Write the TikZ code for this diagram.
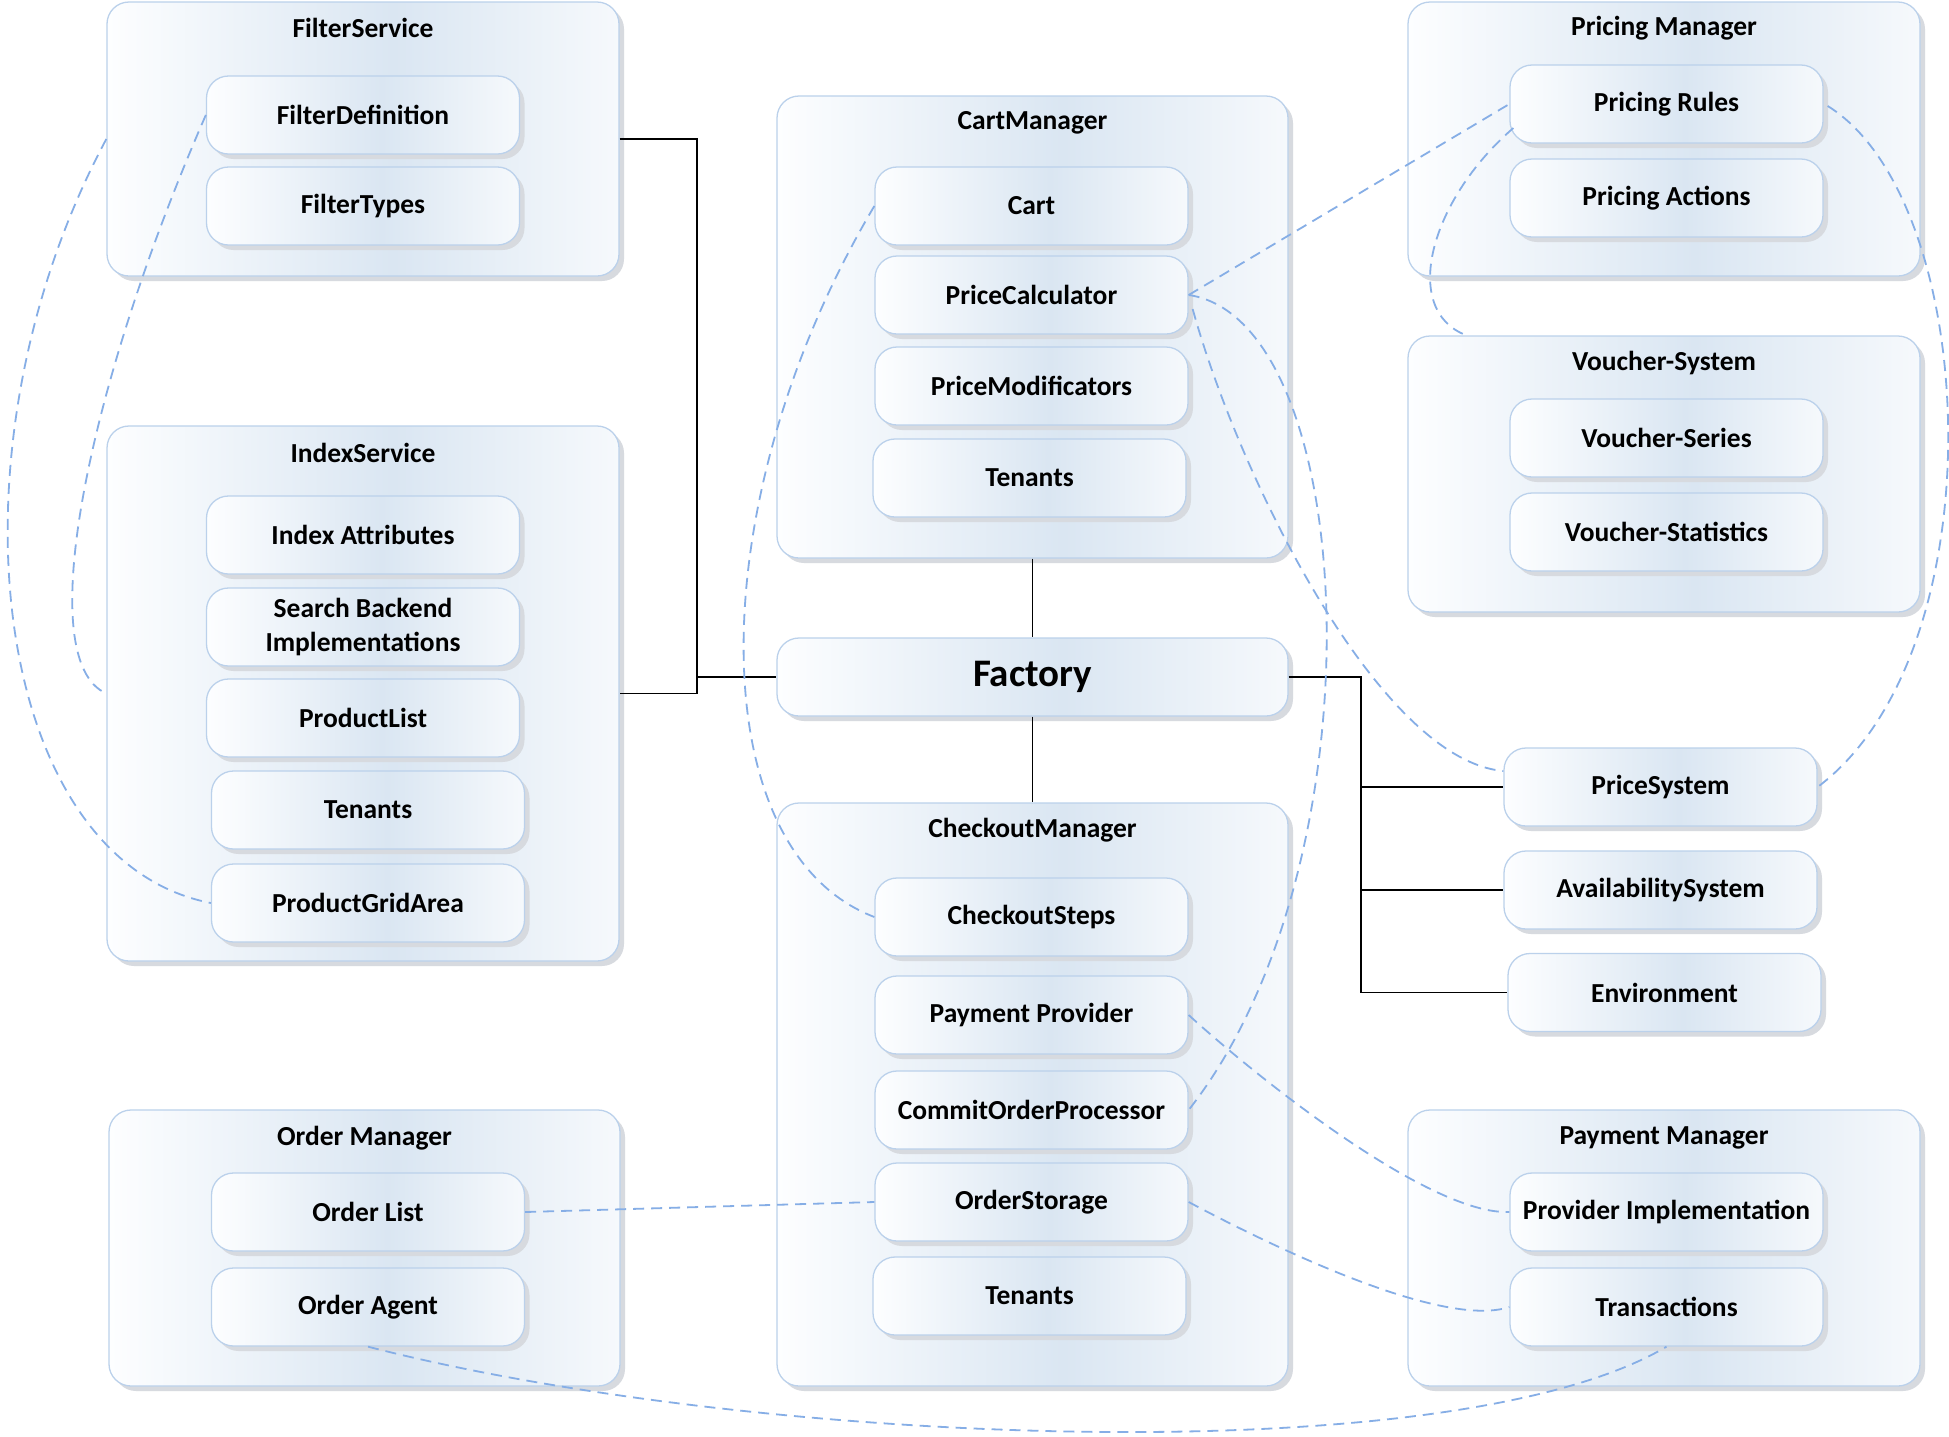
\documentclass[tikz,border=0pt]{standalone}
\usepackage{fontspec}
\setmainfont{Carlito}
\usetikzlibrary{shadows,calc}
\definecolor{bordc}{HTML}{BBD1EB}
\definecolor{shadc}{HTML}{D7DADF}
\definecolor{midc}{HTML}{DAE6F2}
\definecolor{edgec}{HTML}{FDFEFF}
\definecolor{edgeb}{HTML}{F6F9FC}
\definecolor{dashc}{HTML}{86AEE6}
\pgfdeclarehorizontalshading{boxshade}{100bp}{color(0bp)=(edgec); color(25bp)=(edgec); color(53bp)=(midc); color(75bp)=(edgeb); color(100bp)=(edgeb)}
\begin{document}
\begin{tikzpicture}[x=1pt,y=-1pt,
  box/.style={draw=bordc, line width=1.3pt, rounded corners=22pt, shading=boxshade,
    general shadow={fill=shadc, shadow xshift=5pt, shadow yshift=-5pt}, inner sep=0pt},
  item/.style={box, minimum width=313pt, minimum height=78pt, font=\fontsize{27.5}{34}\selectfont\bfseries, align=center},
  ttl/.style={font=\fontsize{27.5}{34}\selectfont\bfseries, inner sep=0pt},
  link/.style={black, line width=1.3pt},
  dep/.style={dashc, line width=1.8pt, dash pattern=on 11pt off 7pt}]
\path[use as bounding box, fill=white] (0,0) rectangle (1949,1436);

% containers
\node[box, minimum width=512pt, minimum height=274pt] (fs) at (363,139) {};
\node[ttl] (fst) at (363,28) {FilterService};
\node[box, minimum width=512pt, minimum height=535pt] (is) at (363,693.5) {};
\node[ttl] (ist) at (363,453) {IndexService};
\node[box, minimum width=511pt, minimum height=276pt] (om) at (364.5,1248) {};
\node[ttl] (omt) at (364.5,1138) {Order Manager};
\node[box, minimum width=511pt, minimum height=462pt] (cm) at (1032.5,327) {};
\node[ttl] (cmt) at (1032.5,123) {CartManager};
\node[box, minimum width=511pt, minimum height=78pt, font=\fontsize{39}{44}\selectfont\bfseries] (fac) at (1032.5,677) {Factory};
\node[box, minimum width=511pt, minimum height=583pt] (ck) at (1032.5,1094.5) {};
\node[ttl] (ckt) at (1032.5,830) {CheckoutManager};
\node[box, minimum width=512pt, minimum height=274pt] (pm) at (1664,139) {};
\node[ttl] (pmt) at (1664,28) {Pricing Manager};
\node[box, minimum width=512pt, minimum height=276pt] (vs) at (1664,474) {};
\node[ttl] (vst) at (1664,363) {Voucher-System};
\node[box, minimum width=512pt, minimum height=276pt] (paym) at (1664,1248) {};
\node[ttl] (paymt) at (1664,1138) {Payment Manager};

% items
\node[item] (fd) at (363,115) {FilterDefinition};
\node[item] (ft) at (363,206) {FilterTypes};
\node[item] (ia) at (363,535) {Index Attributes};
\node[item] (sb) at (363,627) {Search Backend\\Implementations};
\node[item] (pl) at (363,718) {ProductList};
\node[item] (ten1) at (368,810) {Tenants};
\node[item] (pga) at (368,903) {ProductGridArea};
\node[item] (ol) at (368,1212) {Order List};
\node[item] (oa) at (368,1307) {Order Agent};
\node[item] (cart) at (1031.5,206) {Cart};
\node[item] (pc) at (1031.5,295) {PriceCalculator};
\node[item] (pmod) at (1031.5,386) {PriceModificators};
\node[item] (ten2) at (1029.5,478) {Tenants};
\node[item] (cs) at (1031.5,917) {CheckoutSteps};
\node[item] (pp) at (1031.5,1015) {Payment Provider};
\node[item] (cop) at (1031.5,1110) {CommitOrderProcessor};
\node[item] (os) at (1031.5,1202) {OrderStorage};
\node[item] (ten3) at (1029.5,1296) {Tenants};
\node[item] (pr) at (1666.5,104) {Pricing Rules};
\node[item] (pa) at (1666.5,198) {Pricing Actions};
\node[item] (vser) at (1666.5,438) {Voucher-Series};
\node[item] (vstat) at (1666.5,532) {Voucher-Statistics};
\node[item] (ps) at (1660.5,787) {PriceSystem};
\node[item] (as) at (1660.5,890) {AvailabilitySystem};
\node[item] (env) at (1664.5,992.5) {Environment};
\node[item] (pi) at (1666.5,1212) {Provider Implementation};
\node[item] (tr) at (1666.5,1307) {Transactions};

% solid connectors
\coordinate (jl) at (697,677);
\coordinate (jbot) at (697,693.5);
\coordinate (jr) at (1361,677);
\draw[link] (fs.east) -| (jbot) -- (is.east);
\draw[link] (jl) -- (fac.west);
\draw[link] (cm.south) -- (fac.north);
\draw[link] (fac.south) -- (ck.north);
\draw[link] (fac.east) -- (jr) |- (env.west);
\draw[link] (jr |- ps.west) -- (ps.west);
\draw[link] (jr |- as.west) -- (as.west);

% dashed dependencies
\draw[dep] (fs.west) .. controls (-60,450) and (-10,860) .. (pga.west);
\draw[dep] (fd.west) .. controls (90,380) and (30,660) .. (is.west);
\draw[dep] (cart.west) .. controls (700,500) and (700,850) .. (cs.west);
\draw[dep] (pc.east) -- (pr.west);
\draw[dep] ($(pr.west)+(4,24)$) .. controls (1430,200) and (1400,310) .. ($(vs.north west)+(59,0)$);
\draw[dep] (pc.east) .. controls (1360,320) and (1385,860) .. (cop.east);
\draw[dep] ($(pc.east)+(4,14)$) .. controls (1240,480) and (1380,760) .. ($(ps.west)+(0,-16)$);
\draw[dep] ($(pr.east)+(4,2)$) .. controls (1980,200) and (2000,650) .. (ps.east);
\draw[dep] (pp.east) .. controls (1260,1080) and (1430,1215) .. (pi.west);
\draw[dep] (os.east) .. controls (1260,1240) and (1440,1330) .. (tr.west);
\draw[dep] (ol.east) -- (os.west);
\draw[dep] (oa.south) .. controls (750,1445) and (1450,1475) .. (tr.south);
\end{tikzpicture}
\end{document}
